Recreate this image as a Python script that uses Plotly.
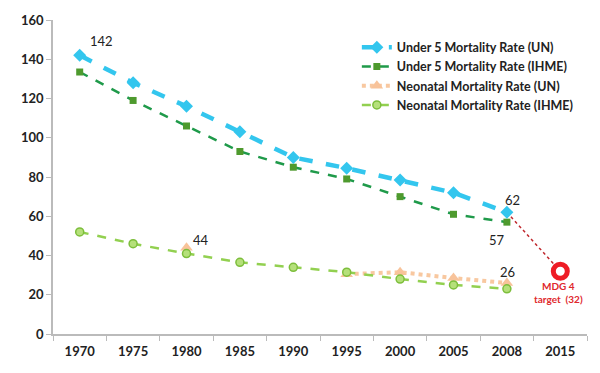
import plotly.graph_objects as go

years = ["1970", "1975", "1980", "1985", "1990", "1995", "2000", "2005", "2008", "2015"]
u5_un = [142, 128, 116, 103, 90, 84.5, 78.5, 72, 62, None]
u5_ihme = [133.5, 119, 106, 93, 85, 79, 70, 61, 57, None]
neo_un = [None, None, 44, None, None, 30.5, 31.5, 28.5, 26, None]
neo_ihme = [52, 46, 41, 36.5, 34, 31.5, 28, 25, 23, None]
mdg_x = ["2008", "2015"]
mdg_y = [62, 32]
labels = [("1970", 142, "142"), ("1980", 44, "44"), ("2008", 62, "62"),
          ("2008", 57, "57"), ("2008", 26, "26")]

font_fam = "Lato, 'Open Sans', sans-serif"

fig = go.Figure()
fig.add_trace(go.Scatter(x=years, y=neo_un, name="Neonatal Mortality Rate (UN)",
                         mode="lines+markers", legendrank=3,
                         line=dict(color="#F8C8A0", width=4, dash="dot"),
                         marker=dict(symbol="triangle-up", size=11, color="#F8C39A")))
fig.add_trace(go.Scatter(x=years, y=neo_ihme, name="Neonatal Mortality Rate (IHME)",
                         mode="lines+markers", legendrank=4,
                         line=dict(color="#92D050", width=2.5, dash="dash"),
                         marker=dict(symbol="circle", size=8, color="#B5E07A",
                                     line=dict(color="#7DBE3C", width=1.5))))
fig.add_trace(go.Scatter(x=mdg_x, y=mdg_y, mode="lines", showlegend=False,
                         line=dict(color="#C0282D", width=1.5, dash="dot")))
fig.add_trace(go.Scatter(x=years, y=u5_ihme, name="Under 5 Mortality Rate (IHME)",
                         mode="lines+markers", legendrank=2,
                         line=dict(color="#1F9A4A", width=2.5, dash="dash"),
                         marker=dict(symbol="square", size=7, color="#4E9A2E")))
fig.add_trace(go.Scatter(x=years, y=u5_un, name="Under 5 Mortality Rate (UN)",
                         mode="lines+markers", legendrank=1,
                         line=dict(color="#33C6EE", width=4.5, dash="dash"),
                         marker=dict(symbol="diamond", size=10, color="#33C6EE")))
fig.add_trace(go.Scatter(x=["2015"], y=[32], mode="markers", showlegend=False,
                         marker=dict(symbol="circle", size=14, color="white",
                                     line=dict(color="#EE1C25", width=5))))

shifts = [(22, 14), (14, 8), (6, 12), (-10, -18), (1, 11)]
for (x, y, t), (xs, ys) in zip(labels, shifts):
    fig.add_annotation(x=years.index(x), y=y, xref="x", yref="y", text=t,
                       xshift=xs, yshift=ys, showarrow=False,
                       font=dict(family=font_fam, size=13, color="#222222"))
fig.add_annotation(x=years.index("2015"), y=32, xref="x", yref="y",
                   text="<b>MDG 4<br>target  (32)</b>", showarrow=False,
                   yshift=-21, xshift=-2, font=dict(family=font_fam, size=10, color="#E0282D"))

fig.update_layout(
    width=600, height=373,
    margin=dict(l=45, r=21, t=12, b=47),
    paper_bgcolor="white", plot_bgcolor="white",
    font=dict(family=font_fam, color="#222222"),
    legend=dict(x=0.569, y=0.96, xanchor="left", yanchor="top",
                bgcolor="rgba(0,0,0,0)",
                font=dict(size=12.5, color="#222222", family=font_fam, weight="bold"),
                tracegroupgap=0, itemwidth=30),
    xaxis=dict(type="category", categoryorder="array", categoryarray=years,
               tickson="boundaries", ticks="outside", ticklen=5, tickcolor="#BBBBBB",
               showline=True, linecolor="#BBBBBB", linewidth=1.5, showgrid=False,
               tickfont=dict(size=13, family=font_fam, color="#222222", weight="bold"),
               ticklabelstandoff=5,
               range=[-0.5, 9.5], zeroline=False, automargin=False),
    yaxis=dict(range=[0, 160], dtick=20, ticks="outside", ticklen=5, tickcolor="#BBBBBB",
               showline=True, linecolor="#BBBBBB", linewidth=1.5, showgrid=False,
               zeroline=False, automargin=False,
               tickfont=dict(size=13, family=font_fam, color="#222222", weight="bold")),
)
fig.write_html("out.html")
